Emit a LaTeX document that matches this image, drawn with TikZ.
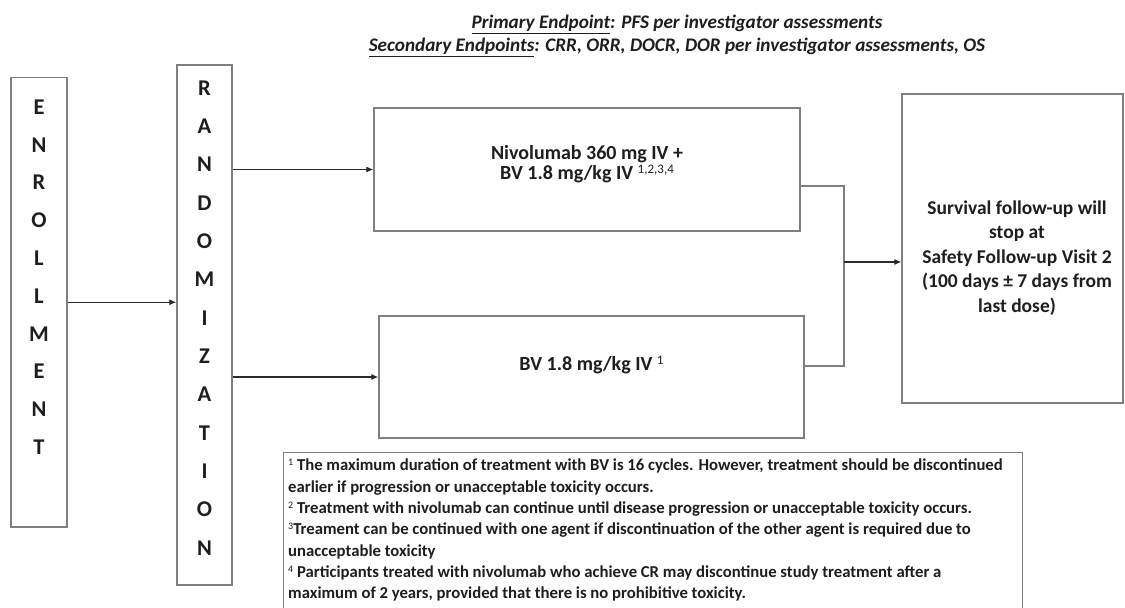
\documentclass[tikz,border=0pt]{standalone}
\usepackage{fontspec}
\setmainfont{Carlito}
\usetikzlibrary{arrows.meta}
\definecolor{boxgray}{HTML}{7F7F7F}
\definecolor{ink}{HTML}{1E1E1E}
\definecolor{wire}{HTML}{2A2A2A}
\newcommand{\fnmark}[1]{{\fontsize{10}{10}\selectfont\mdseries\raisebox{0.5em}{#1}}}
\begin{document}
\begin{tikzpicture}[x=1pt,y=-1pt,
  box/.style={draw=boxgray, line width=1.3pt, inner sep=0pt, fill=white},
  label/.style={text=ink, font=\bfseries\fontsize{19.5}{24.5}\selectfont, align=center, inner sep=0pt},
  letters/.style={text=ink, align=center, inner sep=0pt},
  conn/.style={draw=boxgray, line width=1.3pt},
  arr/.style={draw=wire, line width=1.2pt, -{Latex[length=7pt,width=6pt]}},
  note/.style={text=ink, font=\bfseries\fontsize{16.7}{21.3}\selectfont, align=left, inner sep=0pt, anchor=north west}]
\useasboundingbox (0,0) rectangle (1125,608);
\fill[white] (0,0) rectangle (1125,608);

% endpoints header
\node[text=ink, font=\bfseries\itshape\fontsize{19.2}{23}\selectfont, align=center, inner sep=0pt] (hdr) at (677,36)
  {\underline{Primary Endpoint}: PFS per investigator assessments\\
   \underline{Secondary Endpoints}: CRR, ORR, DOCR, DOR per investigator assessments, OS};

% vertical stage boxes
\node[box, minimum width=56pt, minimum height=449.5pt] (enr) at (39,302.25) {};
\node[letters, font=\bfseries\fontsize{22.5}{37.8}\selectfont] (enrtxt) at (39,277)
  {E\\N\\R\\O\\L\\L\\M\\E\\N\\T};
\node[box, minimum width=55pt, minimum height=520pt] (rand) at (204.5,325) {};
\node[letters, font=\bfseries\fontsize{22.5}{38.33}\selectfont] (randtxt) at (204.5,318)
  {R\\A\\N\\D\\O\\M\\I\\Z\\A\\T\\I\\O\\N};

% treatment arms
\node[box, minimum width=426pt, minimum height=123pt] (top) at (587,169.5) {};
\node[label, font=\bfseries\fontsize{20}{20.5}\selectfont] (toptxt) at (587,164)
  {Nivolumab 360 mg IV +\\BV 1.8 mg/kg IV {\fontsize{13}{13}\selectfont\mdseries\raisebox{0.45em}{1,2,3,4}}};
\node[box, minimum width=425pt, minimum height=122pt] (bot) at (591.5,377) {};
\node[label, font=\bfseries\fontsize{20}{24}\selectfont] (bottxt) at (591.5,365)
  {BV 1.8 mg/kg IV {\fontsize{13}{13}\selectfont\mdseries\raisebox{0.45em}{1}}};

% follow-up
\node[box, minimum width=221pt, minimum height=309pt] (surv) at (1012.5,248.5) {};
\node[label] (survtxt) at (1017,258)
  {Survival follow-up will\\stop at\\Safety Follow-up Visit 2\\(100 days ± 7 days from\\last dose)};

% footnotes
\node[box, anchor=north west, minimum width=739pt, minimum height=175pt] (notes) at (283,452) {};
\node[note] (notetxt) at (288,459)
  {\fnmark{1} The maximum duration of treatment with BV is 16 cycles. However, treatment should be discontinued\\
   earlier if progression or unacceptable toxicity occurs.\\
   \fnmark{2} Treatment with nivolumab can continue until disease progression or unacceptable toxicity occurs.\\
   \fnmark{3}Treament can be continued with one agent if discontinuation of the other agent is required due to\\
   unacceptable toxicity\\
   \fnmark{4} Participants treated with nivolumab who achieve CR may discontinue study treatment after a\\
   maximum of 2 years, provided that there is no prohibitive toxicity.};

% flow
\draw[arr] (enr.east) -- (enr.east -| rand.west);
\draw[arr] (rand.east |- top.west) -- (top.west);
\draw[arr] (rand.east |- bot.west) -- (bot.west);
\coordinate (ta) at (800,186);
\coordinate (ba) at (804,366);
\coordinate (jb) at (844,366);
\coordinate (jm) at (844,262);
\draw[conn] (ta) -| (jb) -- (ba);
\draw[arr] (jm) -- (jm -| surv.west);
\end{tikzpicture}
\end{document}
